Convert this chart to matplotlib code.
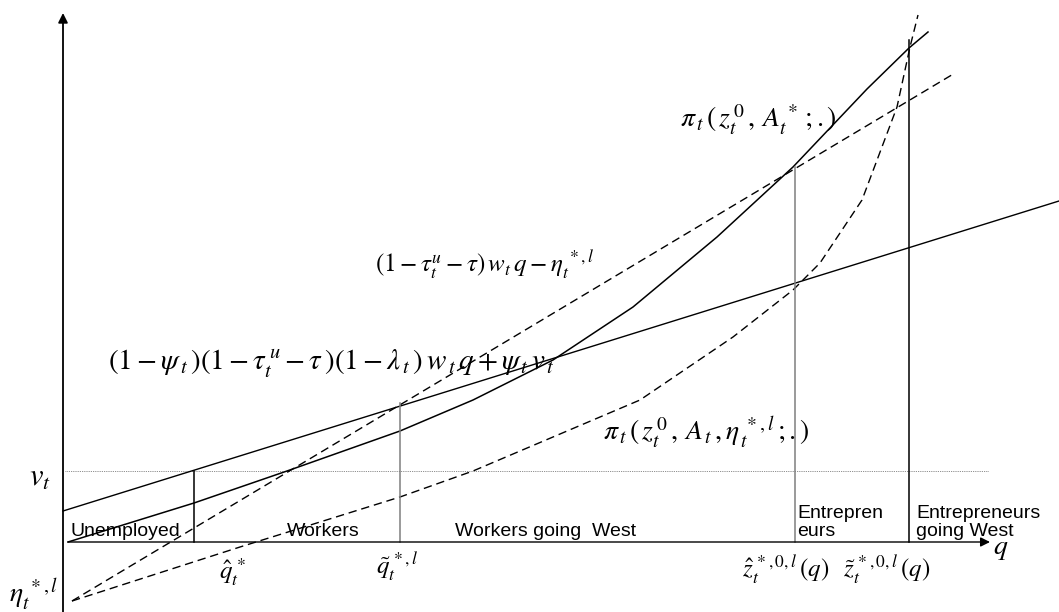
import matplotlib
matplotlib.use("Agg")
import matplotlib.pyplot as plt

plt.rcParams['mathtext.fontset'] = 'stix'
plt.rcParams['font.family'] = ['Liberation Sans', 'DejaVu Sans']

# ---- data (diagram units: q horizontal, value vertical) ----
# solid convex curve pi_t(z0, A*; .)
pi_star_q = [0.05, 1.31, 2.24, 3.37, 4.10, 4.90, 5.70, 6.54, 7.30, 8.04, 8.46, 8.65]
pi_star_v = [0.00, 0.39, 0.71, 1.11, 1.42, 1.82, 2.35, 3.05, 3.75, 4.53, 4.94, 5.10]

# dashed convex curve pi_t(z0, A_t, eta; .)
pi_eta_q = [0.09, 1.77, 3.37, 4.10, 5.77, 6.70, 7.30, 7.57, 7.99, 8.34, 8.47, 8.55]
pi_eta_v = [-0.59, -0.05, 0.45, 0.71, 1.42, 2.05, 2.52, 2.79, 3.42, 4.35, 4.95, 5.27]

# straight lines
wage_q = [0.09, 8.92]          # (1-tau^u-tau) w q - eta  (dashed)
wage_v = [-0.59, 4.69]
benefit_q = [0.0, 9.96]        # (1-psi)(...)w q + psi v  (solid)
benefit_v = [0.31, 3.41]

v_t = 0.71
eta_val = -0.59

# thresholds: (q position, top of vertical line, colour)
thr_q = [1.31, 3.37, 7.32, 8.46]
thr_top = [0.71, 1.39, 3.75, 5.02]
thr_col = ['black', '#7f7f7f', '#7f7f7f', 'black']

region_labels = ["Unemployed", "Workers", "Workers going  West"]
region_q = [0.07, 2.24, 3.92]

fig = plt.figure(figsize=(10.59, 6.12), dpi=100)
ax = fig.add_axes([0, 0, 1, 1])
ax.set_xlim(-0.63, 9.96)
ax.set_ylim(-0.70, 5.42)
ax.axis('off')

dash = (0, (6, 3.5))

# axes arrows
ax.annotate('', xy=(0.0, 5.29), xytext=(0.0, -0.70),
            arrowprops=dict(arrowstyle='-|>', color='black', lw=1.3,
                            mutation_scale=14, shrinkA=0, shrinkB=0))
ax.annotate('', xy=(9.27, 0.0), xytext=(0.05, 0.0),
            arrowprops=dict(arrowstyle='-|>', color='black', lw=1.0,
                            mutation_scale=14, shrinkA=0, shrinkB=0))

# v_t dotted line
ax.plot([0.02, 9.25], [v_t, v_t], color='#666666', lw=0.6, linestyle=(0, (1, 1.2)))

# curves
ax.plot(pi_star_q, pi_star_v, color='black', lw=1.1)
ax.plot(pi_eta_q, pi_eta_v, color='black', lw=1.0, linestyle=dash)
ax.plot(wage_q, wage_v, color='black', lw=1.0, linestyle=dash)
ax.plot(benefit_q, benefit_v, color='black', lw=1.0)

# threshold verticals
for q, top, c in zip(thr_q, thr_top, thr_col):
    ax.plot([q, q], [0, top], color=c, lw=1.1)

# region labels
for lab, q in zip(region_labels, region_q):
    ax.text(q, 0.06, lab, fontsize=14, ha='left', va='baseline')
ax.text(7.34, 0.24, "Entrepren", fontsize=14, ha='left', va='baseline')
ax.text(7.34, 0.06, "eurs", fontsize=14, ha='left', va='baseline')
ax.text(8.53, 0.24, "Entrepreneurs", fontsize=14, ha='left', va='baseline')
ax.text(8.53, 0.06, "going West", fontsize=14, ha='left', va='baseline')

# math labels
ax.text(3.12, 2.77, r"$(1-\tau_t^{u}-\tau)\,w_t\,q-\eta_t^{\;*,l}$", fontsize=18,
        ha='left', va='center')
ax.text(0.45, 1.79,
        r"$(1-\psi_{\,t}\,)(1-\tau_t^{\,u}-\tau\,)(1-\lambda_{\,t}\,)\,w_{\,t}\,q+\psi_{\,t}\,v_{\,t}$",
        fontsize=21, ha='left', va='center')
ax.text(6.17, 4.22, r"$\pi_{\,t}\,(\,z_t^{\,0}\,,\,A_t^{\,*}\,;.)$", fontsize=20,
        ha='left', va='center')
ax.text(5.40, 1.09, r"$\pi_{\,t}\,(\,z_t^{\,0}\,,\,A_{\,t}\,,\eta_{\,t}^{\;*,l}\,;.)$",
        fontsize=20, ha='left', va='center')
ax.text(-0.23, 0.64, r"$v_t$", fontsize=22, ha='center', va='center')
ax.text(-0.54, -0.53, r"$\eta_t^{\;*,l}$", fontsize=20, ha='left', va='center')
ax.text(1.70, -0.30, r"$\hat{q}_t^{\,*}$", fontsize=18, ha='center', va='center')
ax.text(3.34, -0.25, r"$\tilde{q}_t^{\,*,l}$", fontsize=18, ha='center', va='center')
ax.text(7.23, -0.28, r"$\hat{z}_t^{\,*,0,l}\,(q)$", fontsize=18, ha='center', va='center')
ax.text(8.24, -0.28, r"$\tilde{z}_t^{\,*,0,l}\,(q)$", fontsize=18, ha='center', va='center')
ax.text(9.30, -0.07, r"$q$", fontsize=20, ha='left', va='center')

fig.savefig("out.png", dpi=100)
